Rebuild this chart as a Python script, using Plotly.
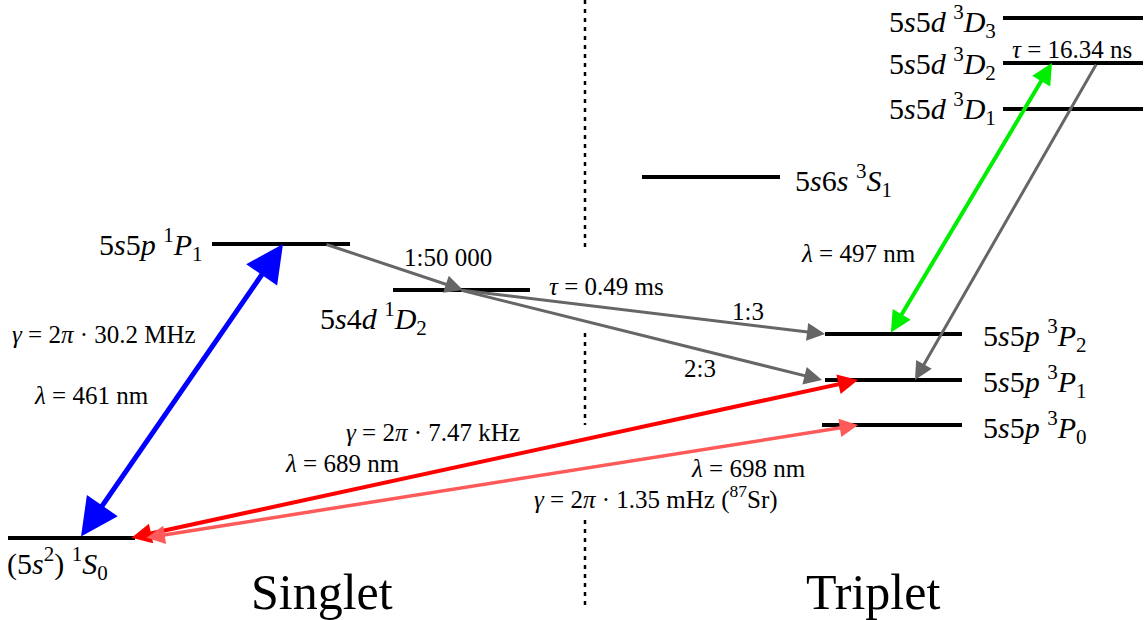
import plotly.graph_objects as go

W, H = 1147, 620
FONT = "Liberation Serif, Times New Roman, serif"

# ---------------- data ----------------
# energy levels: name, horizontal extent, vertical position (diagram units, y grows downward)
level_names = ["1S0", "1P1", "1D2", "3S1", "3D3", "3D2", "3D1", "3P2", "3P1", "3P0"]
level_x0 = [8, 212, 393, 642, 1003, 1003, 1003, 825, 825, 822]
level_x1 = [135, 350, 530, 780, 1143, 1143, 1143, 962, 962, 962]
level_y = [538, 244, 290, 177, 18, 63, 109, 334, 380, 425]
level_labels = [
    "(5<i>s</i><sup>2</sup>)&nbsp;<sup>1</sup><i>S</i><sub>0</sub>",
    "5<i>s</i>5<i>p</i>&nbsp;<sup>1</sup><i>P</i><sub>1</sub>",
    "5<i>s</i>4<i>d</i>&nbsp;<sup>1</sup><i>D</i><sub>2</sub>",
    "5<i>s</i>6<i>s</i>&nbsp;<sup>3</sup><i>S</i><sub>1</sub>",
    "5<i>s</i>5<i>d</i>&nbsp;<sup>3</sup><i>D</i><sub>3</sub>",
    "5<i>s</i>5<i>d</i>&nbsp;<sup>3</sup><i>D</i><sub>2</sub>",
    "5<i>s</i>5<i>d</i>&nbsp;<sup>3</sup><i>D</i><sub>1</sub>",
    "5<i>s</i>5<i>p</i>&nbsp;<sup>3</sup><i>P</i><sub>2</sub>",
    "5<i>s</i>5<i>p</i>&nbsp;<sup>3</sup><i>P</i><sub>1</sub>",
    "5<i>s</i>5<i>p</i>&nbsp;<sup>3</sup><i>P</i><sub>0</sub>",
]

# transitions: tail -> head
trans_x0 = [80, 325, 460, 460, 890, 1097, 130, 145]
trans_y0 = [538, 244, 290, 290, 334, 63, 538, 538]
trans_x1 = [283, 463, 825, 822, 1052, 915, 858, 858]
trans_y1 = [244, 290, 334, 380, 63, 380, 380, 425]
trans_double = [True, False, False, False, True, False, True, True]
trans_color = ["#0000ff", "#666666", "#666666", "#666666", "#00ee00", "#666666", "#ff0000", "#ff5a5a"]

# transition annotations
note_texts = [
    "1:50 000",
    "<i>τ</i> = 0.49 ms",
    "1:3",
    "2:3",
    "<i>γ</i> = 2<i>π</i> · 30.2 MHz",
    "<i>λ</i> = 461 nm",
    "<i>γ</i> = 2<i>π</i> · 7.47 kHz",
    "<i>λ</i> = 689 nm",
    "<i>λ</i> = 698 nm",
    "<i>γ</i> = 2<i>π</i> · 1.35 mHz (<sup>87</sup>Sr)",
    "<i>λ</i> = 497 nm",
    "<i>τ</i> = 16.34 ns",
]
note_x = [448, 606, 748, 700, 104, 91, 433, 342, 748, 656, 858, 1072]
note_y = [257, 286, 311, 368, 334, 395, 432, 463, 468, 497, 253, 49]

group_names = ["Singlet", "Triplet"]
group_x = [322, 873]
group_y = [592, 592]

# ---------------- styles ----------------
trans_width = [5, 3, 3, 3, 4, 3, 4, 3.5]
trans_headsize = [1.5, 1.2, 1.2, 1.2, 1.05, 1.2, 1.0, 1.05]
level_label_pos = [
    (5, 563, "left"), (205, 244, "right"), (373, 318, "center"), (793, 180, "left"),
    (998, 21, "right"), (998, 63, "right"), (998, 108, "right"),
    (981, 335, "left"), (981, 381, "left"), (981, 427, "left"),
]

fig = go.Figure()

# dotted separator (interrupted behind labels)
sep_x = 585
sep_segments = [(0, 250), (333, 425), (520, 610)]
sx, sy = [], []
for a, b in sep_segments:
    sx += [sep_x, sep_x, None]
    sy += [a, b, None]
fig.add_trace(go.Scatter(x=sx, y=sy, mode="lines", hoverinfo="skip",
                         line=dict(color="black", width=2.5, dash="4px,5px")))

# energy levels
lx, ly = [], []
for x0, x1, y in zip(level_x0, level_x1, level_y):
    lx += [x0, x1, None]
    ly += [y, y, None]
fig.add_trace(go.Scatter(x=lx, y=ly, mode="lines", hoverinfo="skip",
                         line=dict(color="black", width=4)))

annotations = []
# transitions as arrows
for i in range(len(trans_x0)):
    annotations.append(dict(
        x=trans_x1[i], y=trans_y1[i], ax=trans_x0[i], ay=trans_y0[i],
        xref="x", yref="y", axref="x", ayref="y", text="", showarrow=True,
        arrowhead=2, startarrowhead=2,
        arrowside="end+start" if trans_double[i] else "end",
        arrowsize=trans_headsize[i], startarrowsize=trans_headsize[i],
        arrowwidth=trans_width[i], arrowcolor=trans_color[i],
        standoff=0, startstandoff=0,
    ))

# level labels
for txt, (x, y, anchor) in zip(level_labels, level_label_pos):
    annotations.append(dict(x=x, y=y, xref="x", yref="y", text=txt, showarrow=False,
                            xanchor=anchor, yanchor="middle",
                            font=dict(family=FONT, size=30, color="black")))

# transition labels
for txt, x, y in zip(note_texts, note_x, note_y):
    annotations.append(dict(x=x, y=y, xref="x", yref="y", text=txt, showarrow=False,
                            xanchor="center", yanchor="middle",
                            font=dict(family=FONT, size=25, color="black")))

for txt, x, y in zip(group_names, group_x, group_y):
    annotations.append(dict(x=x, y=y, xref="x", yref="y", text=txt, showarrow=False,
                            xanchor="center", yanchor="middle",
                            font=dict(family=FONT, size=50, color="black")))

fig.update_layout(
    width=W, height=H, margin=dict(l=0, r=0, t=0, b=0),
    paper_bgcolor="white", plot_bgcolor="white", showlegend=False,
    xaxis=dict(range=[0, W], visible=False, fixedrange=True),
    yaxis=dict(range=[H, 0], visible=False, fixedrange=True),
    annotations=annotations,
)

fig.write_html("out.html", config={"displayModeBar": False},
               post_script="document.body.style.margin='0';document.body.style.overflow='hidden';")
